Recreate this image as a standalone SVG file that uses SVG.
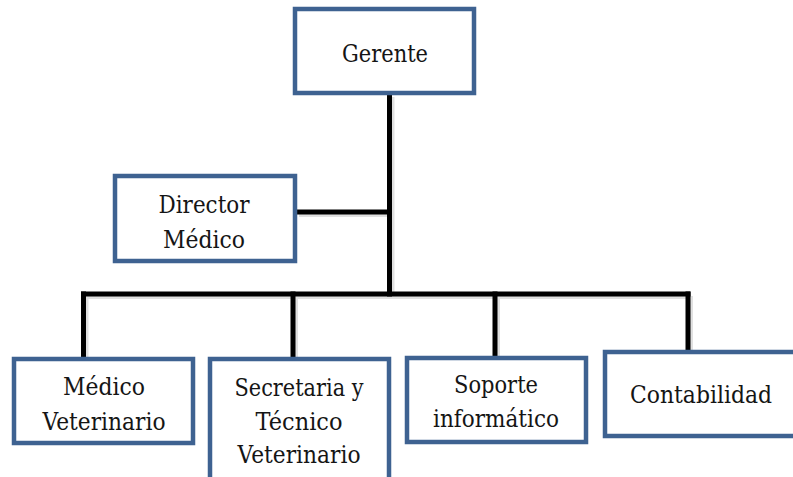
<svg xmlns="http://www.w3.org/2000/svg" width="793" height="477" viewBox="0 0 793 477">
  <defs>
    <style>
      .box { fill: #ffffff; stroke: #3e6291; stroke-width: 4.5; }
      .lbl { font-family: 'DejaVu Serif', serif; font-size: 25px; fill: #151515; text-anchor: middle; }
      .wire { fill: none; stroke: #000000; stroke-width: 5; stroke-linecap: square; }
      .shade { fill: none; stroke: #000000; stroke-opacity: 0.12; stroke-width: 6; }
    </style>
  </defs>
  <rect width="793" height="477" fill="#ffffff"/>

  <!-- connectors -->
  <g id="connectors">
    <g transform="translate(2,2)">
      <path class="shade" d="M389.5 95 V294 M297 212 H389.5 M83.5 294 H688 M83.5 294 V357 M293 294 V357 M495 294 V356 M688 294 V350"/>
    </g>
    <path class="wire" d="M389.5 95 V294"/>
    <path class="wire" d="M297 212 H389.5"/>
    <path class="wire" d="M83.5 294 H688"/>
    <path class="wire" d="M83.5 294 V357"/>
    <path class="wire" d="M293 294 V357"/>
    <path class="wire" d="M495 294 V356"/>
    <path class="wire" d="M688 294 V350"/>
  </g>

  <g id="gerente">
    <rect class="box" x="295" y="9" width="179" height="84"/>
    <text class="lbl" x="385" y="62" textLength="86" lengthAdjust="spacingAndGlyphs">Gerente</text>
  </g>

  <g id="director-medico">
    <rect class="box" x="115" y="176" width="180" height="85"/>
    <text class="lbl" x="204" y="213" textLength="91" lengthAdjust="spacingAndGlyphs">Director</text>
    <text class="lbl" x="204" y="248" textLength="82" lengthAdjust="spacingAndGlyphs">Médico</text>
  </g>

  <g id="medico-veterinario">
    <rect class="box" x="14" y="359" width="179" height="84"/>
    <text class="lbl" x="104" y="395" textLength="82" lengthAdjust="spacingAndGlyphs">Médico</text>
    <text class="lbl" x="104" y="430" textLength="123" lengthAdjust="spacingAndGlyphs">Veterinario</text>
  </g>

  <g id="secretaria-tecnico">
    <rect class="box" x="210" y="359" width="179" height="130"/>
    <text class="lbl" x="299" y="396" textLength="129" lengthAdjust="spacingAndGlyphs">Secretaria y</text>
    <text class="lbl" x="299" y="430" textLength="87" lengthAdjust="spacingAndGlyphs">Técnico</text>
    <text class="lbl" x="299" y="463" textLength="123" lengthAdjust="spacingAndGlyphs">Veterinario</text>
  </g>

  <g id="soporte-informatico">
    <rect class="box" x="407" y="358" width="179" height="84"/>
    <text class="lbl" x="496" y="393" textLength="84" lengthAdjust="spacingAndGlyphs">Soporte</text>
    <text class="lbl" x="496" y="427" textLength="126" lengthAdjust="spacingAndGlyphs">informático</text>
  </g>

  <g id="contabilidad">
    <rect class="box" x="605" y="352" width="200" height="84"/>
    <text class="lbl" x="701" y="403" textLength="142" lengthAdjust="spacingAndGlyphs">Contabilidad</text>
  </g>
</svg>
